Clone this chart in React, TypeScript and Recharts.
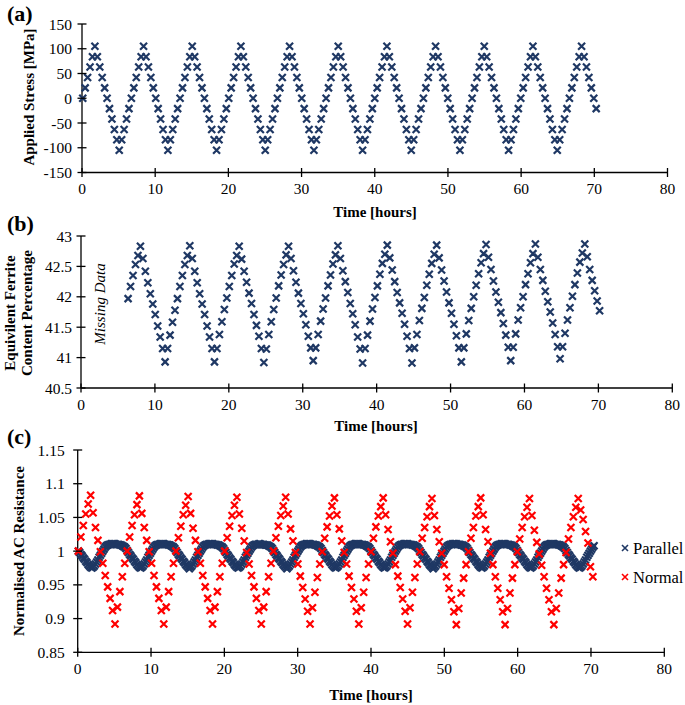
import { ScatterChart, Scatter, XAxis, YAxis } from 'recharts'

const NAVY = '#1F3864'
const RED = '#FF0000'
const FONT = "'Liberation Serif', 'Times New Roman', serif"

const timeTicks = [0, 10, 20, 30, 40, 50, 60, 70, 80]
const stressTicks = [-150, -100, -50, 0, 50, 100, 150]
const ferriteTicks = [40.5, 41, 41.5, 42, 42.5, 43]
const resistanceTicks = [0.85, 0.9, 0.95, 1, 1.05, 1.1, 1.15]

// readings were logged at a fixed interval (about every 20 min)
const STRESS_START = 0.1
const STRESS_STEP = 0.3325
const FERRITE_START = 6.37
const FERRITE_STEP = 0.334
const PARALLEL_START = 0.1
const PARALLEL_STEP = 0.16625

// (a) applied stress, MPa
const stressValues = [
  0, 21, 42, 63, 84, 105, 84, 63, 42, 21, 0, -21, -42, -63, -84, -105, -84, -63, -42, -21,
  0, 21, 42, 63, 84, 105, 84, 63, 42, 21, 0, -21, -42, -63, -84, -105, -84, -63, -42, -21,
  0, 21, 42, 63, 84, 105, 84, 63, 42, 21, 0, -21, -42, -63, -84, -105, -84, -63, -42, -21,
  0, 21, 42, 63, 84, 105, 84, 63, 42, 21, 0, -21, -42, -63, -84, -105, -84, -63, -42, -21,
  0, 21, 42, 63, 84, 105, 84, 63, 42, 21, 0, -21, -42, -63, -84, -105, -84, -63, -42, -21,
  0, 21, 42, 63, 84, 105, 84, 63, 42, 21, 0, -21, -42, -63, -84, -105, -84, -63, -42, -21,
  0, 21, 42, 63, 84, 105, 84, 63, 42, 21, 0, -21, -42, -63, -84, -105, -84, -63, -42, -21,
  0, 21, 42, 63, 84, 105, 84, 63, 42, 21, 0, -21, -42, -63, -84, -105, -84, -63, -42, -21,
  0, 21, 42, 63, 84, 105, 84, 63, 42, 21, 0, -21, -42, -63, -84, -105, -84, -63, -42, -21,
  0, 21, 42, 63, 84, 105, 84, 63, 42, 21, 0, -21, -42, -63, -84, -105, -84, -63, -42, -21,
  0, 21, 42, 63, 84, 105, 84, 63, 42, 21, 0, -21,
]

// (b) equivalent ferrite content, %
const ferriteValues = [
  41.97, 42.17, 42.35, 42.53, 42.68, 42.83, 42.63, 42.42, 42.23, 42.05, 41.88, 41.71, 41.52, 41.34, 41.15,
  40.93, 41.15, 41.37, 41.58, 41.78, 41.97, 42.17, 42.35, 42.53, 42.68, 42.84, 42.63, 42.42, 42.23, 42.05, 41.88, 41.71, 41.52, 41.34, 41.15,
  40.93, 41.15, 41.38, 41.59, 41.79, 41.98, 42.17, 42.35, 42.54, 42.68, 42.83, 42.62, 42.42, 42.24, 42.06, 41.89, 41.71, 41.53, 41.35, 41.15,
  40.92, 41.14, 41.38, 41.59, 41.79, 41.98, 42.18, 42.36, 42.53, 42.69, 42.83, 42.63, 42.43, 42.24, 42.06, 41.89, 41.72, 41.54, 41.35, 41.16,
  40.95, 41.16, 41.38, 41.6, 41.8, 41.98, 42.18, 42.36, 42.54, 42.69, 42.84, 42.63, 42.43, 42.25, 42.07, 41.89, 41.72, 41.54, 41.34, 41.14,
  40.91, 41.15, 41.37, 41.6, 41.8, 41.99, 42.18, 42.37, 42.55, 42.7, 42.85, 42.64, 42.44, 42.25, 42.07, 41.9, 41.73, 41.55, 41.35, 41.15,
  40.91, 41.16, 41.38, 41.61, 41.81, 41.99, 42.19, 42.37, 42.55, 42.7, 42.85, 42.64, 42.44, 42.26, 42.08, 41.9, 41.73, 41.55, 41.36, 41.16,
  40.93, 41.16, 41.39, 41.61, 41.81, 42.0, 42.19, 42.38, 42.56, 42.71, 42.86, 42.65, 42.45, 42.26, 42.08, 41.91, 41.74, 41.56, 41.37, 41.17,
  40.95, 41.17, 41.39, 41.62, 41.82, 42.0, 42.2, 42.38, 42.56, 42.71, 42.87, 42.65, 42.45, 42.27, 42.09, 41.92, 41.75, 41.57, 41.38, 41.18,
  40.98, 41.18, 41.4, 41.62, 41.82, 42.01, 42.2, 42.39, 42.57, 42.72, 42.87, 42.66, 42.45, 42.27, 42.1, 41.93, 41.77,
]

// (c) normalised AC resistance, coil normal to the load
const normalValues = [
  1.0, 1.021, 1.038, 1.055, 1.07, 1.083, 1.057, 1.035, 1.016, 0.999, 0.982, 0.964, 0.947, 0.93, 0.912, 0.892, 0.917, 0.94, 0.962, 0.982,
  1.0, 1.021, 1.038, 1.054, 1.069, 1.082, 1.056, 1.035, 1.016, 0.999, 0.982, 0.964, 0.947, 0.93, 0.912, 0.892, 0.917, 0.94, 0.962, 0.982,
  1.0, 1.02, 1.037, 1.054, 1.068, 1.081, 1.056, 1.034, 1.016, 0.999, 0.982, 0.964, 0.947, 0.93, 0.912, 0.892, 0.917, 0.94, 0.962, 0.982,
  1.0, 1.02, 1.037, 1.053, 1.068, 1.08, 1.055, 1.034, 1.015, 0.998, 0.981, 0.964, 0.947, 0.93, 0.912, 0.892, 0.917, 0.94, 0.962, 0.982,
  1.0, 1.02, 1.037, 1.053, 1.067, 1.08, 1.055, 1.033, 1.015, 0.998, 0.981, 0.963, 0.946, 0.929, 0.911, 0.892, 0.916, 0.939, 0.961, 0.981,
  0.999, 1.019, 1.036, 1.052, 1.067, 1.079, 1.054, 1.033, 1.015, 0.998, 0.981, 0.963, 0.946, 0.929, 0.911, 0.892, 0.916, 0.939, 0.961, 0.981,
  0.999, 1.019, 1.036, 1.052, 1.066, 1.079, 1.054, 1.032, 1.014, 0.997, 0.98, 0.963, 0.946, 0.929, 0.911, 0.892, 0.916, 0.939, 0.961, 0.981,
  0.999, 1.019, 1.035, 1.051, 1.066, 1.078, 1.053, 1.032, 1.014, 0.997, 0.98, 0.962, 0.945, 0.928, 0.91, 0.891, 0.915, 0.938, 0.96, 0.98,
  0.999, 1.019, 1.035, 1.052, 1.066, 1.079, 1.054, 1.032, 1.014, 0.997, 0.98, 0.962, 0.945, 0.928, 0.91, 0.891, 0.915, 0.938, 0.96, 0.98,
  0.999, 1.018, 1.035, 1.051, 1.065, 1.078, 1.053, 1.031, 1.013, 0.996, 0.979, 0.962, 0.945, 0.928, 0.91, 0.891, 0.915, 0.938, 0.96, 0.98,
  0.998, 1.018, 1.035, 1.051, 1.065, 1.078, 1.061, 1.047, 1.029, 1.012, 0.977, 0.962,
]

// (c) normalised AC resistance, coil parallel to the load (logged twice as often)
const parallelValues = [
  1.0, 0.998, 0.995, 0.993, 0.99, 0.988, 0.985, 0.983, 0.98, 0.978, 0.976, 0.975, 0.976, 0.978, 0.981, 0.984, 0.987, 0.991, 0.994, 0.997,
  1.0, 1.003, 1.006, 1.008, 1.009, 1.01, 1.01, 1.011, 1.011, 1.011, 1.011, 1.01, 1.01, 1.01, 1.009, 1.009, 1.008, 1.007, 1.006, 1.004,
  1.001, 0.998, 0.995, 0.993, 0.99, 0.988, 0.985, 0.983, 0.98, 0.978, 0.976, 0.975, 0.976, 0.978, 0.981, 0.984, 0.987, 0.991, 0.994, 0.997,
  1.0, 1.003, 1.006, 1.008, 1.009, 1.01, 1.01, 1.011, 1.011, 1.011, 1.011, 1.01, 1.01, 1.01, 1.009, 1.009, 1.008, 1.007, 1.006, 1.004,
  1.001, 0.998, 0.995, 0.993, 0.99, 0.988, 0.985, 0.983, 0.98, 0.978, 0.976, 0.974, 0.976, 0.978, 0.981, 0.984, 0.987, 0.991, 0.994, 0.997,
  1.0, 1.003, 1.006, 1.008, 1.009, 1.01, 1.01, 1.011, 1.011, 1.011, 1.011, 1.01, 1.01, 1.01, 1.009, 1.009, 1.008, 1.007, 1.006, 1.004,
  1.001, 0.998, 0.995, 0.993, 0.99, 0.988, 0.985, 0.983, 0.98, 0.978, 0.976, 0.975, 0.976, 0.978, 0.981, 0.984, 0.987, 0.991, 0.994, 0.997,
  1.0, 1.003, 1.006, 1.008, 1.009, 1.01, 1.01, 1.01, 1.011, 1.011, 1.01, 1.01, 1.01, 1.009, 1.009, 1.009, 1.008, 1.007, 1.006, 1.004,
  1.001, 0.998, 0.995, 0.993, 0.99, 0.988, 0.985, 0.983, 0.98, 0.978, 0.976, 0.974, 0.976, 0.978, 0.981, 0.984, 0.987, 0.991, 0.994, 0.997,
  1.0, 1.003, 1.006, 1.008, 1.009, 1.01, 1.01, 1.011, 1.011, 1.011, 1.011, 1.01, 1.01, 1.01, 1.009, 1.009, 1.008, 1.007, 1.006, 1.004,
  1.001, 0.998, 0.995, 0.993, 0.99, 0.988, 0.985, 0.983, 0.98, 0.978, 0.976, 0.975, 0.976, 0.978, 0.981, 0.984, 0.987, 0.991, 0.994, 0.997,
  1.0, 1.003, 1.006, 1.008, 1.009, 1.01, 1.01, 1.011, 1.011, 1.011, 1.011, 1.01, 1.01, 1.01, 1.009, 1.009, 1.008, 1.007, 1.006, 1.004,
  1.001, 0.998, 0.995, 0.993, 0.99, 0.988, 0.985, 0.983, 0.98, 0.978, 0.976, 0.975, 0.976, 0.978, 0.981, 0.984, 0.987, 0.991, 0.994, 0.997,
  1.0, 1.003, 1.006, 1.008, 1.009, 1.01, 1.01, 1.011, 1.011, 1.011, 1.011, 1.01, 1.01, 1.01, 1.009, 1.009, 1.008, 1.007, 1.006, 1.004,
  1.001, 0.998, 0.995, 0.993, 0.99, 0.988, 0.985, 0.983, 0.98, 0.978, 0.976, 0.974, 0.976, 0.978, 0.981, 0.984, 0.987, 0.991, 0.994, 0.997,
  1.0, 1.003, 1.006, 1.008, 1.009, 1.01, 1.01, 1.011, 1.011, 1.011, 1.011, 1.01, 1.01, 1.01, 1.009, 1.009, 1.008, 1.007, 1.006, 1.004,
  1.001, 0.998, 0.995, 0.993, 0.99, 0.988, 0.985, 0.983, 0.98, 0.978, 0.976, 0.975, 0.976, 0.978, 0.981, 0.984, 0.987, 0.991, 0.994, 0.997,
  1.0, 1.003, 1.006, 1.008, 1.009, 1.01, 1.01, 1.011, 1.011, 1.011, 1.011, 1.01, 1.01, 1.01, 1.009, 1.009, 1.008, 1.007, 1.006, 1.004,
  1.001, 0.998, 0.995, 0.993, 0.99, 0.988, 0.985, 0.983, 0.98, 0.978, 0.976, 0.975, 0.976, 0.978, 0.981, 0.984, 0.987, 0.991, 0.994, 0.997,
  1.0, 1.003, 1.006, 1.008, 1.009, 1.01, 1.01, 1.011, 1.011, 1.011, 1.011, 1.01, 1.01, 1.01, 1.009, 1.009, 1.008, 1.007, 1.006, 1.004,
  1.001, 0.998, 0.995, 0.993, 0.99, 0.988, 0.985, 0.983, 0.98, 0.978, 0.976, 0.975, 0.976, 0.978, 0.981, 0.984, 0.987, 0.991, 0.994, 0.997,
  1.0, 1.003, 1.006, 1.008,
]

const stressData = stressValues.map((v, i) => ({ t: STRESS_START + i * STRESS_STEP, v }))
const ferriteData = ferriteValues.map((v, i) => ({ t: FERRITE_START + i * FERRITE_STEP, v }))
const normalData = normalValues.map((v, i) => ({ t: STRESS_START + i * STRESS_STEP, v }))
const parallelData = parallelValues.map((v, i) => ({ t: PARALLEL_START + i * PARALLEL_STEP, v }))

function XMark({ cx, cy, color, r = 3.5, w = 2.2 }: { cx: number; cy: number; color: string; r?: number; w?: number }) {
  return (
    <path
      d={`M${cx - r},${cy - r}L${cx + r},${cy + r}M${cx - r},${cy + r}L${cx + r},${cy - r}`}
      stroke={color}
      strokeWidth={w}
      fill="none"
    />
  )
}

const markShape = (color: string) => (props: any) => <XMark cx={props.cx} cy={props.cy} color={color} />

// ticks cross the axis line, like the original Excel plot
const xTick = (props: any) => {
  const { x, y, payload } = props
  return (
    <g>
      <line x1={x} x2={x} y1={y - 4.5} y2={y + 4.5} stroke="#000" strokeWidth={1.3} />
      <text x={x} y={y + 16} textAnchor="middle" dominantBaseline="central" fontSize={15.5} fontFamily={FONT} fill="#000">
        {payload.value}
      </text>
    </g>
  )
}

const yTick = (gap: number) => (props: any) => {
  const { x, y, payload } = props
  return (
    <g>
      <line x1={x - 4.5} x2={x + 4.5} y1={y} y2={y} stroke="#000" strokeWidth={1.3} />
      <text x={x - gap} y={y} textAnchor="end" dominantBaseline="central" fontSize={15.5} fontFamily={FONT} fill="#000">
        {payload.value}
      </text>
    </g>
  )
}

const axisLine = { stroke: '#000', strokeWidth: 1.3 }

const titleStyle = { fontFamily: FONT, fontWeight: 700, fontSize: 15, fill: '#000' }
const letterStyle = { fontFamily: FONT, fontWeight: 700, fontSize: 22, fill: '#000' }
const legendStyle = { fontFamily: FONT, fontSize: 16.5, fill: '#000' }

export default function App() {
  return (
    <div style={{ position: 'absolute', left: 0, top: 0, width: 685, height: 705, background: '#fff' }}>
      <div style={{ position: 'absolute', left: 0, top: 0 }}>
        <ScatterChart width={685} height={225} margin={{ top: 24, right: 17.5, bottom: 22.5, left: 0 }}>
          <XAxis
            type="number"
            dataKey="t"
            domain={[0, 80]}
            ticks={timeTicks}
            interval={0}
            height={30}
            tickSize={0}
            tickMargin={0}
            tickLine={false}
            axisLine={axisLine}
            tick={xTick}
          />
          <YAxis
            type="number"
            dataKey="v"
            domain={[-150, 150]}
            ticks={stressTicks}
            interval={0}
            width={82}
            tickSize={0}
            tickMargin={0}
            tickLine={false}
            axisLine={axisLine}
            tick={yTick(10)}
          />
          <Scatter data={stressData} shape={markShape(NAVY)} isAnimationActive={false} />
        </ScatterChart>
      </div>

      <div style={{ position: 'absolute', left: 0, top: 225 }}>
        <ScatterChart width={685} height={215} margin={{ top: 11, right: 12.7, bottom: 22, left: 0 }}>
          <XAxis
            type="number"
            dataKey="t"
            domain={[0, 80]}
            ticks={timeTicks}
            interval={0}
            height={30}
            tickSize={0}
            tickMargin={0}
            tickLine={false}
            axisLine={axisLine}
            tick={xTick}
          />
          <YAxis
            type="number"
            dataKey="v"
            domain={[40.5, 43]}
            ticks={ferriteTicks}
            interval={0}
            width={81}
            tickSize={0}
            tickMargin={0}
            tickLine={false}
            axisLine={axisLine}
            tick={yTick(9)}
          />
          <Scatter data={ferriteData} shape={markShape(NAVY)} isAnimationActive={false} />
        </ScatterChart>
      </div>

      <div style={{ position: 'absolute', left: 0, top: 440 }}>
        <ScatterChart width={685} height={265} margin={{ top: 10, right: 20.7, bottom: 22.7, left: 0 }}>
          <XAxis
            type="number"
            dataKey="t"
            domain={[0, 80]}
            ticks={timeTicks}
            interval={0}
            height={30}
            tickSize={0}
            tickMargin={0}
            tickLine={false}
            axisLine={axisLine}
            tick={xTick}
          />
          <YAxis
            type="number"
            dataKey="v"
            domain={[0.85, 1.15]}
            ticks={resistanceTicks}
            interval={0}
            width={77.7}
            tickSize={0}
            tickMargin={0}
            tickLine={false}
            axisLine={axisLine}
            tick={yTick(13)}
          />
          <Scatter name="Parallel" data={parallelData} shape={markShape(NAVY)} isAnimationActive={false} />
          <Scatter name="Normal" data={normalData} shape={markShape(RED)} isAnimationActive={false} />
        </ScatterChart>
      </div>

      <svg width={685} height={705} style={{ position: 'absolute', left: 0, top: 0, pointerEvents: 'none' }}>
        <text x={7} y={21} style={letterStyle}>(a)</text>
        <text x={7} y={231} style={letterStyle}>(b)</text>
        <text x={7} y={444} style={letterStyle}>(c)</text>

        <text transform="translate(28.5,97) rotate(-90)" textAnchor="middle" dominantBaseline="central" style={titleStyle}>
          Applied Stress [MPa]
        </text>
        <text transform="translate(9.5,313) rotate(-90)" textAnchor="middle" dominantBaseline="central" style={titleStyle}>
          Equivilent Ferrite
        </text>
        <text transform="translate(26.5,313) rotate(-90)" textAnchor="middle" dominantBaseline="central" style={titleStyle}>
          Content Percentage
        </text>
        <text transform="translate(19,551) rotate(-90)" textAnchor="middle" dominantBaseline="central" style={titleStyle}>
          Normalised AC Resistance
        </text>

        <text x={375} y={212} textAnchor="middle" dominantBaseline="central" style={titleStyle}>Time [hours]</text>
        <text x={376} y={426} textAnchor="middle" dominantBaseline="central" style={titleStyle}>Time [hours]</text>
        <text x={371} y={695} textAnchor="middle" dominantBaseline="central" style={titleStyle}>Time [hours]</text>

        <text
          transform="translate(100,304) rotate(-90)"
          textAnchor="middle"
          dominantBaseline="central"
          style={{ fontFamily: FONT, fontStyle: 'italic', fontSize: 15, fill: '#000' }}
        >
          Missing Data
        </text>

        <XMark cx={625} cy={548} color={NAVY} r={3} w={1.6} />
        <text x={633} y={548} dominantBaseline="central" style={legendStyle}>Parallel</text>
        <XMark cx={625} cy={577} color={RED} r={3} w={1.6} />
        <text x={633} y={577} dominantBaseline="central" style={legendStyle}>Normal</text>
      </svg>
    </div>
  )
}
